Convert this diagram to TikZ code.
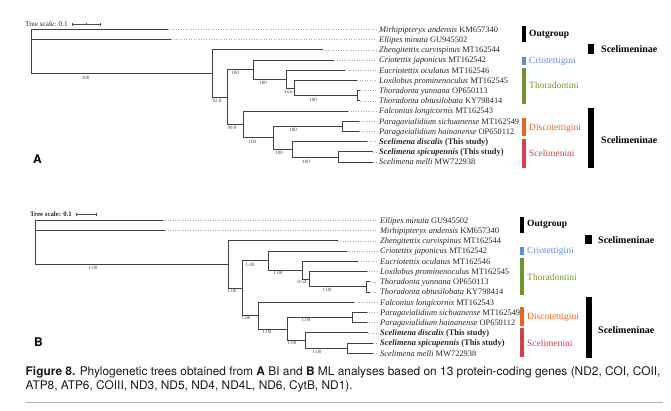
\documentclass[tikz,border=0pt]{standalone}
\usepackage{fontspec}
\usetikzlibrary{calc}
\setmainfont{Liberation Serif}
\newfontfamily\capfont{TeX Gyre Heros}
\definecolor{cblue}{RGB}{95,140,215}
\definecolor{cgreen}{RGB}{110,150,45}
\definecolor{corange}{RGB}{235,100,30}
\definecolor{cred}{RGB}{205,65,80}
\begin{document}
\begin{tikzpicture}[x=1pt,y=-1pt,
  br/.style={draw=black!75,line width=0.9pt},
  dots/.style={draw=black!35,dotted,line width=0.5pt},
  taxon/.style={anchor=base west,inner sep=0pt,font=\fontsize{8.4}{10}\selectfont,text=black!85},
  supp/.style={inner sep=0pt,font=\fontsize{5}{5}\selectfont,text=black!75},
  cbar/.style={inner sep=0pt,minimum width=4.5pt,draw=none},
  clab/.style={anchor=west,inner sep=0pt,font=\fontsize{9.5}{10}\selectfont},
  olab/.style={anchor=west,inner sep=0pt,font=\fontsize{9.5}{10}\selectfont\bfseries},
  slab/.style={anchor=west,inner sep=0pt,font=\fontsize{10}{11}\selectfont\bfseries},
  panel/.style={anchor=base west,inner sep=0pt,font=\capfont\fontsize{12}{13}\selectfont\bfseries},
  scaletxt/.style={anchor=west,inner sep=0pt,font=\fontsize{7.2}{8}\selectfont,text=black!85},
  sbar/.style={draw=black!70,line width=0.5pt},
  captxt/.style={anchor=base west,inner sep=0pt,font=\capfont\fontsize{11.9}{14}\selectfont,text=black!90}
]
\useasboundingbox (0,0) rectangle (671,410);

% ================= TREE A =================
\node[scaletxt] (scA) at (25,24) {Tree scale: 0.1};
\coordinate (sA1) at (72.5,24); \coordinate (sA2) at (100.5,24); \coordinate (sAm) at (86.5,24);
\draw[sbar] (sA1) -- (sA2);
\draw[sbar] ([yshift=-1.5pt]sA1) -- ([yshift=1.5pt]sA1);
\draw[sbar] ([yshift=-1.5pt]sA2) -- ([yshift=1.5pt]sA2);
\draw[sbar] ([yshift=-1pt]sAm) -- ([yshift=1pt]sAm);

% internal nodes
\coordinate (aR) at (31,51.5);
\coordinate (aZ) at (212,73.49);
\coordinate (aI) at (227,97.07);
\coordinate (aC) at (253,69.66);
\coordinate (aE) at (286,79.23);
\coordinate (aL) at (294,88.15);
\coordinate (aT) at (357,95.8);
\coordinate (aF) at (243,124.49);
\coordinate (aPS) at (273,137.88);
\coordinate (aP) at (342,126.4);
\coordinate (aS) at (292,149.35);
\coordinate (aSM) at (338,157.0);
% leaves
\coordinate (a0) at (168,29.5);
\coordinate (a1) at (171,39.7);
\coordinate (a2) at (323,49.9);
\coordinate (a3) at (334,60.1);
\coordinate (a4) at (345,70.3);
\coordinate (a5) at (357,80.5);
\coordinate (a6) at (360,90.7);
\coordinate (a7) at (360,100.9);
\coordinate (a8) at (348,111.1);
\coordinate (a9) at (359,121.3);
\coordinate (a10) at (359,131.5);
\coordinate (a11) at (367,141.7);
\coordinate (a12) at (373,151.9);
\coordinate (a13) at (373,162.1);

\foreach \p/\c in {aR/a0,aR/a1,aR/aZ,aZ/a2,aZ/aI,aI/aC,aI/aF,aC/a3,aC/aE,aE/a4,aE/aL,aL/a5,aL/aT,aT/a6,aT/a7,aF/a8,aF/aPS,aPS/aP,aPS/aS,aP/a9,aP/a10,aS/a11,aS/aSM,aSM/a12,aSM/a13}
  \draw[br] (\p) |- (\c);

% taxa A
\node[taxon] (ta0) at (379,32.3) {\textit{Mirhipipteryx andensis} KM657340};
\node[taxon] (ta1) at (379,42.5) {\textit{Ellipes minuta} GU945502};
\node[taxon] (ta2) at (379,52.7) {\textit{Zhengitettix curvispinus} MT162544};
\node[taxon] (ta3) at (379,62.9) {\textit{Criotettix japonicus} MT162542};
\node[taxon] (ta4) at (379,73.1) {\textit{Eucriotettix oculatus} MT162546};
\node[taxon] (ta5) at (379,83.3) {\textit{Loxilobus prominenoculus} MT162545};
\node[taxon] (ta6) at (379,93.5) {\textit{Thoradonta yunnana} OP650113};
\node[taxon] (ta7) at (379,103.7) {\textit{Thoradonta obtusilobata} KY798414};
\node[taxon] (ta8) at (379,113.9) {\textit{Falconius longicornis} MT162543};
\node[taxon] (ta9) at (379,124.1) {\textit{Paragavialidium sichuanense} MT162549};
\node[taxon] (ta10) at (379,134.3) {\textit{Paragavialidium hainanense} OP650112};
\node[taxon] (ta11) at (379,144.5) {\textbf{\textit{Scelimena discalis} (This study)}};
\node[taxon] (ta12) at (379,154.7) {\textbf{\textit{Scelimena spicupennis} (This study)}};
\node[taxon] (ta13) at (379,164.9) {\textit{Scelimena melli} MW722938};
\foreach \i in {0,...,13}
  \draw[dots] (a\i) -- ($(a\i -| ta\i.west)+(-3,0)$);

% supports A
\node[supp] (sa1) at (85.5,77.5) {100};
\node[supp] (sa2) at (217,100.7) {92.8};
\node[supp] (sa3) at (235,73.2) {100};
\node[supp] (sa4) at (232,128.3) {99.9};
\node[supp] (sa5) at (263,82.8) {100};
\node[supp] (sa6) at (288.3,91.8) {34.6};
\node[supp] (sa7) at (313,99.8) {100};
\node[supp] (sa8) at (252.3,141.7) {100};
\node[supp] (sa9) at (293,130) {100};
\node[supp] (sa10) at (279,153) {100};
\node[supp] (sa11) at (306,162) {100};

% clade bars A
\node[cbar,fill=black,minimum height=15.7pt] (oA) at (524,33.85) {};
\node[olab] (oAl) at (529,34) {Outgroup};
\node[cbar,fill=cblue,minimum height=8.3pt] (cA) at (524,60.85) {};
\node[clab,text=cblue] (cAl) at (529,61.5) {Criotettigini};
\node[cbar,fill=cgreen,minimum height=36pt] (tA) at (524,86) {};
\node[clab,text=cgreen] (tAl) at (529,85.5) {Thoradontini};
\node[cbar,fill=corange,minimum height=18pt] (dA) at (524,127) {};
\node[clab,text=corange] (dAl) at (529,128) {Discotettigini};
\node[cbar,fill=cred,minimum height=29pt] (rA) at (524,153.5) {};
\node[clab,text=cred] (rAl) at (529,153) {Scelimenini};
\node[cbar,fill=black,minimum width=6.3pt,minimum height=10pt] (qA) at (590.8,49) {};
\node[slab] (qAl) at (601,49.5) {Scelimeninae};
\node[cbar,fill=black,minimum width=6.3pt,minimum height=60.3pt] (bA) at (590.8,137.85) {};
\node[slab] (bAl) at (601,140) {Scelimeninae};

\node[panel] (pA) at (33,163.3) {A};

% ================= TREE B =================
\node[scaletxt,font=\fontsize{6.8}{8}\selectfont\bfseries] (scB) at (30,214) {Tree scale: 0.1};
\coordinate (sB1) at (76.7,214); \coordinate (sB2) at (96.7,214);
\draw[sbar] (sB1) -- (sB2);
\draw[sbar] ([yshift=-1.5pt]sB1) -- ([yshift=1.5pt]sB1);
\draw[sbar] ([yshift=-1.5pt]sB2) -- ([yshift=1.5pt]sB2);

\coordinate (bR) at (35.7,242.5);
\coordinate (bZ) at (228,264.57);
\coordinate (bI) at (242,288.21);
\coordinate (bC) at (268,260.74);
\coordinate (bE) at (302,270.32);
\coordinate (bL) at (309,279.27);
\coordinate (bT) at (366,286.93);
\coordinate (bF) at (258,315.67);
\coordinate (bPS) at (287,329.09);
\coordinate (bP) at (352,317.59);
\coordinate (bS) at (305,340.59);
\coordinate (bSM) at (347,348.25);
\coordinate (b0) at (162.7,220.5);
\coordinate (b1) at (165,230.72);
\coordinate (b2) at (337.7,240.94);
\coordinate (b3) at (346.7,251.16);
\coordinate (b4) at (358,261.38);
\coordinate (b5) at (366.7,271.6);
\coordinate (b6) at (370,281.82);
\coordinate (b7) at (370,292.04);
\coordinate (b8) at (354,302.26);
\coordinate (b9) at (366.7,312.48);
\coordinate (b10) at (366.7,322.7);
\coordinate (b11) at (368,332.92);
\coordinate (b12) at (373,343.14);
\coordinate (b13) at (373,353.36);

\foreach \p/\c in {bR/b0,bR/b1,bR/bZ,bZ/b2,bZ/bI,bI/bC,bI/bF,bC/b3,bC/bE,bE/b4,bE/bL,bL/b5,bL/bT,bT/b6,bT/b7,bF/b8,bF/bPS,bPS/bP,bPS/bS,bP/b9,bP/b10,bS/b11,bS/bSM,bSM/b12,bSM/b13}
  \draw[br] (\p) |- (\c);

\node[taxon] (tb0) at (380,223.3) {\textit{Ellipes minuta} GU945502};
\node[taxon] (tb1) at (380,233.5) {\textit{Mirhipipteryx andensis} KM657340};
\node[taxon] (tb2) at (380,243.7) {\textit{Zhengitettix curvispinus} MT162544};
\node[taxon] (tb3) at (380,253.9) {\textit{Criotettix japonicus} MT162542};
\node[taxon] (tb4) at (380,264.2) {\textit{Eucriotettix oculatus} MT162546};
\node[taxon] (tb5) at (380,274.4) {\textit{Loxilobus prominenoculus} MT162545};
\node[taxon] (tb6) at (380,284.6) {\textit{Thoradonta yunnana} OP650113};
\node[taxon] (tb7) at (380,294.8) {\textit{Thoradonta obtusilobata} KY798414};
\node[taxon] (tb8) at (380,305.1) {\textit{Falconius longicornis} MT162543};
\node[taxon] (tb9) at (380,315.3) {\textit{Paragavialidium sichuanense} MT162549};
\node[taxon] (tb10) at (380,325.5) {\textit{Paragavialidium hainanense} OP650112};
\node[taxon] (tb11) at (380,335.7) {\textbf{\textit{Scelimena discalis} (This study)}};
\node[taxon] (tb12) at (380,345.9) {\textbf{\textit{Scelimena spicupennis} (This study)}};
\node[taxon] (tb13) at (380,356.2) {\textit{Scelimena melli} MW722938};
\foreach \i in {0,...,13}
  \draw[dots] (b\i) -- ($(b\i -| tb\i.west)+(-3,0)$);

\node[supp] (sb1) at (93,267.7) {1.00};
\node[supp] (sb2) at (232,290.7) {1.00};
\node[supp] (sb3) at (250,265) {1.00};
\node[supp] (sb4) at (246,318) {1.00};
\node[supp] (sb5) at (278,273) {1.00};
\node[supp] (sb6) at (302,282) {0.54};
\node[supp] (sb7) at (327,290) {1.00};
\node[supp] (sb8) at (267,331.7) {1.00};
\node[supp] (sb9) at (306,320) {1.00};
\node[supp] (sb10) at (292,343) {1.00};
\node[supp] (sb11) at (317,351.7) {1.00};

\node[cbar,fill=black,minimum height=16.6pt] (oB) at (522,225) {};
\node[olab] (oBl) at (527,224) {Outgroup};
\node[cbar,fill=cblue,minimum height=8.3pt] (cB) at (522,250.85) {};
\node[clab,text=cblue] (cBl) at (527,251) {Criotettigini};
\node[cbar,fill=cgreen,minimum height=36.7pt] (tB) at (522,276.65) {};
\node[clab,text=cgreen] (tBl) at (527,277) {Thoradontini};
\node[cbar,fill=corange,minimum height=18.7pt] (dB) at (522,316.65) {};
\node[clab,text=corange] (dBl) at (527,317) {Discotettigini};
\node[cbar,fill=cred,minimum height=28.4pt] (rB) at (522,342.5) {};
\node[clab,text=cred] (rBl) at (527,343) {Scelimenini};
\node[cbar,fill=black,minimum width=6.7pt,minimum height=9.3pt] (qB) at (588.4,239.65) {};
\node[slab] (qBl) at (598,240) {Scelimeninae};
\node[cbar,fill=black,minimum width=6.6pt,minimum height=61pt] (bB) at (589,327.8) {};
\node[slab] (bBl) at (598,330) {Scelimeninae};

\node[panel] (pB) at (34,346) {B};

% ================= CAPTION =================
\node[captxt] (cap1) at (25.5,375.5)
  {\textbf{Figure 8.} Phylogenetic trees obtained from \textbf{A} BI and \textbf{B} ML analyses based on 13 protein-coding genes (ND2, COI, COII,};
\node[captxt] (cap2) at (25.5,389.5)
  {ATP8, ATP6, COIII, ND3, ND5, ND4, ND4L, ND6, CytB, ND1).};
\coordinate (r1) at (25.5,402); \coordinate (r2) at (663,402);
\draw[draw=black!30,line width=0.8pt] (r1) -- (r2);
\end{tikzpicture}
\end{document}
